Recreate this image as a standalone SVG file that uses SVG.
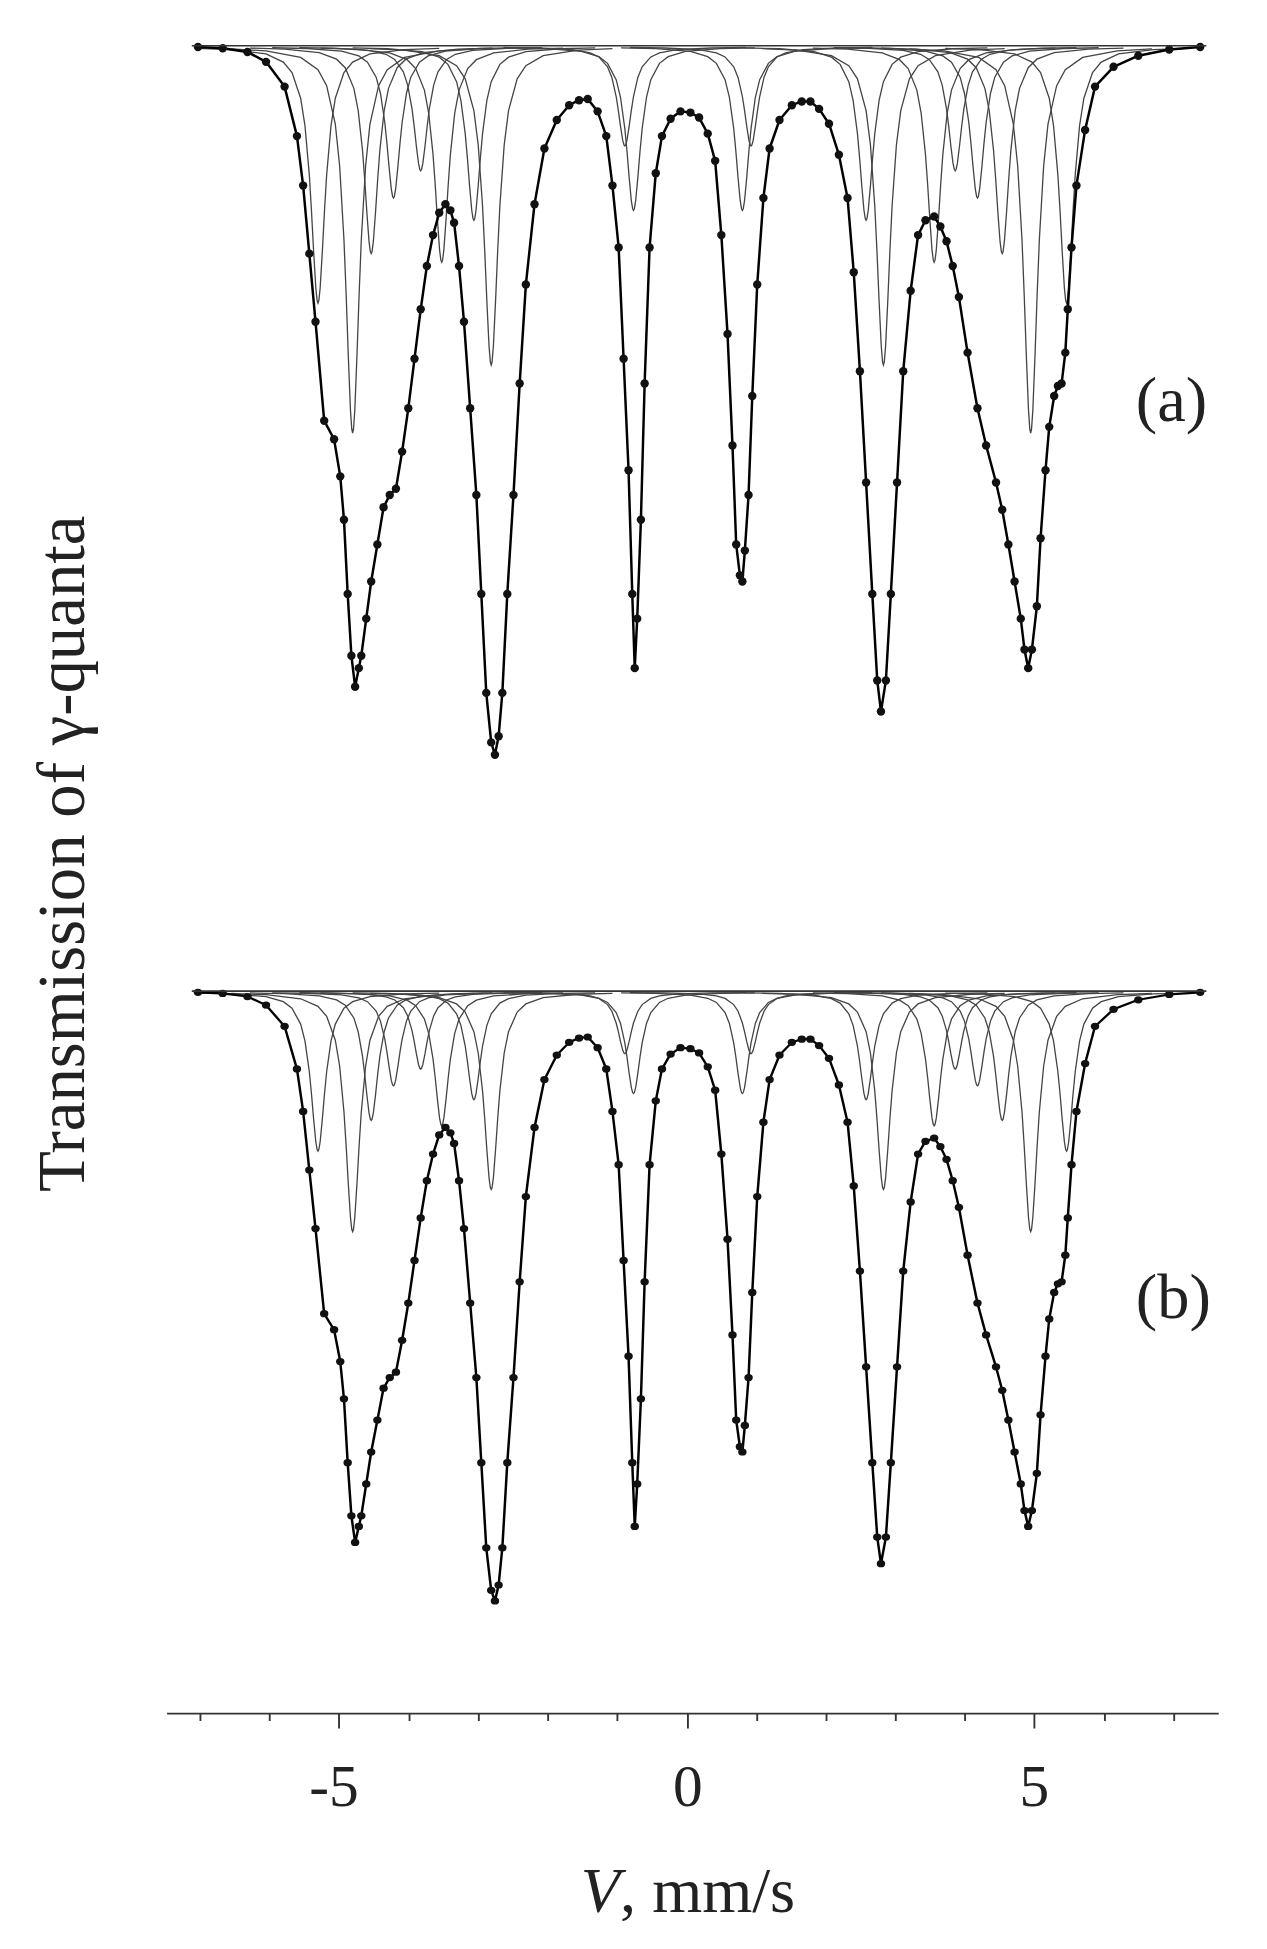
<svg xmlns="http://www.w3.org/2000/svg" xmlns:xlink="http://www.w3.org/1999/xlink" width="1267" height="1949" viewBox="0 0 1267 1949">
<style>
.env{fill:none;stroke:#000;stroke-width:2;stroke-linejoin:round;vector-effect:non-scaling-stroke}
.t{font-family:"Liberation Serif",serif;fill:#222}
.ax{stroke:#333;stroke-width:1.5;fill:none}
</style>
<defs>
<path id="L" fill="none" stroke="#444" stroke-width="1.3" vector-effect="non-scaling-stroke" d="M-14,0.005 L-10,0.0099 L-6,0.027 L-4,0.0588 L-3,0.1 L-2,0.2 L-1.5,0.3077 L-1,0.5 L-0.75,0.64 L-0.5,0.8 L-0.25,0.941 L-0.1,0.99 L0,1 L0.1,0.99 L0.25,0.941 L0.5,0.8 L0.75,0.64 L1,0.5 L1.5,0.3077 L2,0.2 L3,0.1 L4,0.0588 L6,0.027 L10,0.0099 L14,0.005"/>
<marker id="dot" markerUnits="userSpaceOnUse" markerWidth="10" markerHeight="10" refX="5" refY="5"><circle cx="5" cy="5" r="3.4" fill="#111"/></marker>
<g id="subs">
<use xlink:href="#L" transform="translate(257,38) scale(7,207)"/>
<use xlink:href="#L" transform="translate(285,38) scale(7,312)"/>
<use xlink:href="#L" transform="translate(300,38) scale(7,167)"/>
<use xlink:href="#L" transform="translate(318,38) scale(7,122)"/>
<use xlink:href="#L" transform="translate(340,38) scale(7,100)"/>
<use xlink:href="#L" transform="translate(357,38) scale(7,174)"/>
<use xlink:href="#L" transform="translate(383,38) scale(7,140)"/>
<use xlink:href="#L" transform="translate(397,38) scale(7,257)"/>
<use xlink:href="#L" transform="translate(505,38) scale(7,80)"/>
<use xlink:href="#L" transform="translate(512,38) scale(7,132)"/>
<use xlink:href="#L" transform="translate(600,38) scale(7,132)"/>
<use xlink:href="#L" transform="translate(607,38) scale(7,80)"/>
<use xlink:href="#L" transform="translate(700,38) scale(7,140)"/>
<use xlink:href="#L" transform="translate(714,38) scale(7,257)"/>
<use xlink:href="#L" transform="translate(755,38) scale(7,174)"/>
<use xlink:href="#L" transform="translate(772,38) scale(7,100)"/>
<use xlink:href="#L" transform="translate(790,38) scale(7,122)"/>
<use xlink:href="#L" transform="translate(810,38) scale(7,167)"/>
<use xlink:href="#L" transform="translate(833,38) scale(7,312)"/>
<use xlink:href="#L" transform="translate(862,38) scale(7,207)"/>
</g>
<path id="env" d="M160,38 L180,39 L200,42 L215,50 L230,70 L240,110 L245,150 L250,205 L255,260 L262,340 L270,355 L275,385 L278,420 L281,480 L284,530 L287,555 L290,540 L292,530 L296,500 L300,470 L305,440 L310,410 L315,400 L320,395 L325,365 L330,330 L335,290 L340,250 L345,215 L350,190 L355,172 L360,165 L364,170 L367,180 L371,215 L375,260 L380,330 L385,400 L389,480 L393,560 L397,600 L400,610 L403,595 L406,560 L410,480 L415,400 L420,310 L425,230 L432,165 L440,120 L450,97 L460,85 L468,81 L475,80 L483,90 L490,110 L495,150 L500,200 L504,290 L508,380 L511,480 L513,540 L515,500 L518,420 L521,310 L525,200 L530,140 L535,110 L542,96 L550,90 L558,91 L565,95 L572,108 L578,130 L583,190 L588,270 L592,360 L595,440 L598,465 L600,470 L602,445 L605,400 L608,320 L612,230 L617,160 L622,120 L630,97 L640,85 L648,82 L655,82 L662,88 L670,100 L678,125 L685,160 L690,220 L695,300 L700,390 L705,480 L709,550 L712,575 L716,550 L720,480 L725,390 L730,300 L736,235 L742,190 L748,178 L755,175 L760,183 L765,195 L770,215 L775,240 L782,285 L790,330 L797,360 L805,390 L810,412 L815,440 L820,470 L825,500 L828,525 L831,540 L834,525 L838,490 L841,435 L845,380 L848,345 L852,320 L855,312 L858,310 L861,285 L863,250 L866,200 L870,150 L877,105 L885,70 L900,54 L920,45 L945,40 L970,38"/>
</defs>
<g transform="scale(1.2373)">
<g id="panel-a">
<use xlink:href="#subs"/>
<use xlink:href="#env" class="env" marker-start="url(#dot)" marker-mid="url(#dot)" marker-end="url(#dot)"/>
<line x1="155" y1="37" x2="975" y2="37" stroke="#333" stroke-width="1.3"/>
<text class="t" x="918" y="340" font-size="52">(a)</text>
</g>
<g id="panel-b">
<use xlink:href="#subs" transform="translate(0,802) scale(1,0.62) translate(0,-38)"/>
<use xlink:href="#env" class="env" marker-start="url(#dot)" marker-mid="url(#dot)" marker-end="url(#dot)" transform="translate(0,802) scale(1,0.86) translate(0,-38)"/>
<line x1="155" y1="801" x2="975" y2="801" stroke="#333" stroke-width="1.3"/>
<text class="t" x="918" y="1065" font-size="52">(b)</text>
</g>
<g id="axis">
<line class="ax" x1="135" y1="1385" x2="985" y2="1385"/>
<path class="ax" d="M162,1385v6M218,1385v6M274,1385v12M331,1385v6M387,1385v6M443,1385v6M499,1385v6M556,1385v12M612,1385v6M668,1385v6M724,1385v6M780,1385v6M836,1385v12M893,1385v6M949,1385v6"/>
<text class="t" x="270" y="1460" font-size="48" text-anchor="middle">-5</text>
<text class="t" x="556" y="1460" font-size="48" text-anchor="middle">0</text>
<text class="t" x="836" y="1460" font-size="48" text-anchor="middle">5</text>
<text class="t" x="556" y="1545" font-size="52" text-anchor="middle"><tspan font-style="italic">V</tspan>, mm/s</text>
<text class="t" transform="translate(68,690) rotate(-90)" font-size="54" text-anchor="middle">Transmission of γ-quanta</text>
</g>
</g>
</svg>
